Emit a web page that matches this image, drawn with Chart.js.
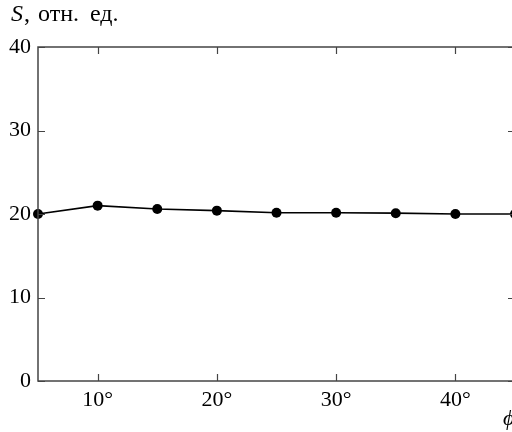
<!DOCTYPE html>
<html>
<head>
<meta charset="utf-8">
<script src="https://cdn.jsdelivr.net/npm/chart.js@4.4.1/dist/chart.umd.min.js"></script>
<style>
    html, body { margin: 0; padding: 0; background: #fff; overflow: hidden; }
    #wrap { position: relative; width: 515px; height: 432px; }
</style>
</head>
<body>
<div id="wrap"><canvas id="chart"></canvas></div>
<script>
(function () {
    'use strict';

    // angle, degrees
    var angles = [5, 10, 15, 20, 25, 30, 35, 40, 45];
    // S, arb. units
    var signal = [20.0, 21.0, 20.6, 20.4, 20.15, 20.15, 20.1, 20.0, 20.0];
    var xTicks = [10, 20, 30, 40];
    var yTicks = [0, 10, 20, 30, 40];

    var FONT = '"Liberation Serif", "Times New Roman", serif';
    var INK = '#000';
    var AXIS = '#444';

    // box around the plot with inward ticks, plus the axis captions
    var framePlugin = {
        id: 'frame',
        afterDraw: function (chart) {
            var ctx = chart.ctx;
            var a = chart.chartArea;
            var xs = chart.scales.x, ys = chart.scales.y;
            var tick = 7;
            ctx.save();
            ctx.strokeStyle = AXIS;
            ctx.lineWidth = 1.5;
            ctx.strokeRect(a.left, a.top, a.right - a.left, a.bottom - a.top);
            ctx.lineWidth = 1.2;
            ctx.beginPath();
            xTicks.forEach(function (v) {
                var px = Math.round(xs.getPixelForValue(v)) + 0.5;
                ctx.moveTo(px, a.bottom); ctx.lineTo(px, a.bottom - tick);
                ctx.moveTo(px, a.top); ctx.lineTo(px, a.top + tick);
            });
            yTicks.forEach(function (v) {
                var py = Math.round(ys.getPixelForValue(v)) + 0.5;
                ctx.moveTo(a.left, py); ctx.lineTo(a.left + tick, py);
                ctx.moveTo(a.right, py); ctx.lineTo(a.right - tick, py);
            });
            ctx.stroke();

            ctx.fillStyle = INK;
            ctx.textBaseline = 'alphabetic';
            ctx.textAlign = 'left';
            ctx.font = 'italic 24px ' + FONT;
            ctx.fillText('S', 11, 21);
            var w = ctx.measureText('S').width;
            ctx.font = '24px ' + FONT;
            ctx.fillText(',', 12 + w, 21);
            ctx.fillText('отн.', 38, 21);
            ctx.fillText('ед.', 90, 21);

            ctx.font = 'italic 22px ' + FONT;
            ctx.fillText('\u03d5', 503, 425);
            ctx.restore();
        }
    };

    new Chart(document.getElementById('chart'), {
        type: 'line',
        data: {
            labels: angles,
            datasets: [{
                data: angles.map(function (a, i) { return { x: a, y: signal[i] }; }),
                borderColor: INK,
                backgroundColor: INK,
                borderWidth: 1.6,
                pointRadius: 5,
                pointBackgroundColor: INK,
                pointBorderWidth: 0,
                tension: 0,
                clip: false
            }]
        },
        options: {
            responsive: true,
            maintainAspectRatio: false,
            animation: false,
            events: [],
            layout: { autoPadding: false, padding: { top: 47, right: 0, left: 0, bottom: 0 } },
            plugins: {
                legend: { display: false },
                tooltip: { enabled: false }
            },
            scales: {
                x: {
                    type: 'linear',
                    min: 5,
                    max: 45,
                    afterBuildTicks: function (s) {
                        s.ticks = xTicks.map(function (v) { return { value: v }; });
                    },
                    afterFit: function (s) { s.height = 51; },
                    grid: { display: false, drawTicks: false },
                    border: { display: false },
                    ticks: {
                        color: INK,
                        padding: 6,
                        maxRotation: 0,
                        font: { family: FONT, size: 22 },
                        callback: function (v) { return v + '°'; }
                    }
                },
                y: {
                    min: 0,
                    max: 40,
                    afterBuildTicks: function (s) {
                        s.ticks = yTicks.map(function (v) { return { value: v }; });
                    },
                    afterFit: function (s) { s.width = 38; },
                    grid: { display: false, drawTicks: false },
                    border: { display: false },
                    ticks: {
                        color: INK,
                        padding: 7,
                        font: { family: FONT, size: 22 }
                    }
                }
            }
        },
        plugins: [framePlugin]
    });
})();
</script>
</body>
</html>
